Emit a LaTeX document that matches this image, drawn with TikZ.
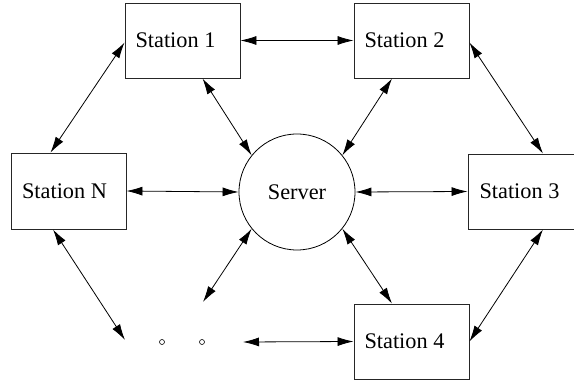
\documentclass[tikz,border=0pt]{standalone}
\usepackage{fontspec}
\setmainfont{Liberation Serif}
\usetikzlibrary{arrows.meta}
\begin{document}
\begin{tikzpicture}[x=1pt,y=-1pt,
  box/.style={draw=black!85,line width=0.9pt,minimum width=115pt,minimum height=75pt,inner sep=0pt,font=\fontsize{22.3}{26}\selectfont},
  srvnode/.style={draw,circle,line width=0.8pt,minimum size=116pt,inner sep=0pt,font=\fontsize{22.3}{26}\selectfont},
  dotnode/.style={draw,circle,line width=0.6pt,minimum size=5pt,inner sep=0pt},
  link/.style={line width=0.8pt,{Latex[length=16pt,width=9pt]}-{Latex[length=16pt,width=9pt]}}]
\useasboundingbox (0,0) rectangle (574,382);
\node[box] (s1) at (182.5,40.5) {\raisebox{-2pt}{Station 1}\hspace*{14pt}};
\node[box] (s2) at (411.5,40.5) {\raisebox{-2pt}{Station 2}\hspace*{14pt}};
\node[box,minimum height=76pt] (sN) at (68.5,191) {\raisebox{-1pt}{Station N}\hspace*{8pt}};
\node[box] (s3) at (525.5,191.5) {\raisebox{-1pt}{Station 3}\hspace*{12pt}};
\node[box] (s4) at (411.5,341.5) {\raisebox{-2pt}{Station 4}\hspace*{14pt}};
\node[srvnode] (srv) at (297,192) {Server};
\node[dotnode] (dot1) at (162,342) {};
\node[dotnode] (dot2) at (202,342) {};
\coordinate (d1) at (125,340);
\coordinate (d2) at (203,302);
\coordinate (d3) at (243,342);
\draw[link] (s1.east) -- (s2.west);
\draw[link] (sN.east) -- (srv.west);
\draw[link] (srv.east) -- (s3.west);
\draw[link] ([yshift=-2pt]s1.west) -- ([xshift=-18pt]sN.north);
\draw[link] ([xshift=20pt]s1.south) -- (srv.141);
\draw[link] ([xshift=-19.5pt]s2.south) -- (srv.39);
\draw[link] ([yshift=-2pt]s2.east) -- ([xshift=17.5pt]s3.north);
\draw[link] ([xshift=-15.5pt]sN.south) -- (d1);
\draw[link] (srv.219) -- (d2);
\draw[link] (srv.321) -- ([xshift=-19.5pt]s4.north);
\draw[link] ([xshift=17.5pt]s3.south) -- (s4.east);
\draw[link] (d3) -- (s4.west);
\end{tikzpicture}
\end{document}
